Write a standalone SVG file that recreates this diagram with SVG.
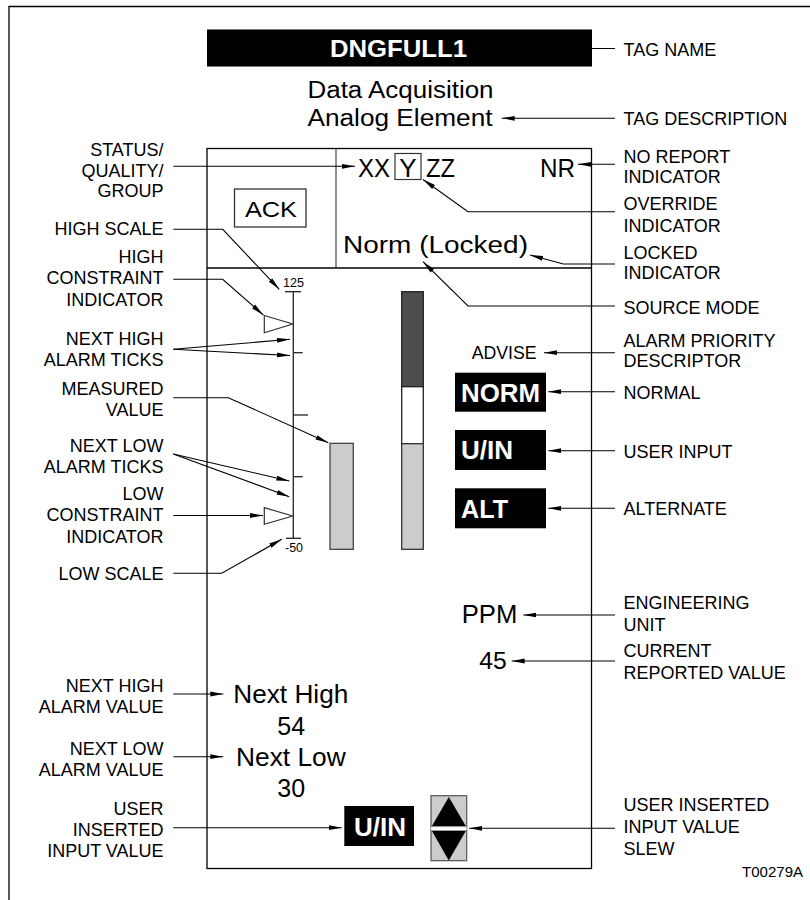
<svg xmlns="http://www.w3.org/2000/svg" width="810" height="900" viewBox="0 0 810 900">
<defs>
<style>
text{font-family:"Liberation Sans",Arial,Helvetica,sans-serif;fill:#000}
.lb{font-size:18px}
.lr{font-size:18px;text-anchor:end}
.big{font-size:23px}
.inv{font-size:26px;font-weight:bold;fill:#fff}
.sm{font-size:12.5px}
.c{stroke:#000;stroke-width:1.1;fill:none;marker-end:url(#ah)}
.bx{fill:#000}
.tk{stroke:#222;stroke-width:1.3}
</style>
<marker id="ah" markerWidth="13" markerHeight="6" refX="13" refY="3" orient="auto" markerUnits="userSpaceOnUse"><path d="M0,0.6 L13,3 L0,5.4 z" fill="#000"/></marker>
</defs>
<rect width="810" height="900" fill="#fff"/>
<path d="M9,900 V6.5 H810" fill="none" stroke="#000" stroke-width="1.3"/>

<g id="tag-name">
<rect x="207" y="29.5" width="385" height="37" class="bx"/>
<text x="330" y="57" font-size="24" font-weight="bold" style="fill:#fff" textLength="137" lengthAdjust="spacingAndGlyphs">DNGFULL1</text>
</g>
<g id="tag-description">
<text x="307.5" y="98.3" class="big" textLength="186" lengthAdjust="spacingAndGlyphs">Data Acquisition</text>
<text x="307.5" y="126" class="big" textLength="185" lengthAdjust="spacingAndGlyphs">Analog Element</text>
</g>

<g id="panel">
<rect x="207" y="148.5" width="384.5" height="720" fill="none" stroke="#000" stroke-width="1.3"/>
<line x1="336" y1="148.5" x2="336" y2="268" stroke="#555" stroke-width="1.3"/>
<line x1="207" y1="268" x2="591.5" y2="268" stroke="#000" stroke-width="1.3"/>
</g>

<g id="ack">
<rect x="234.5" y="189" width="71.5" height="38" fill="none" stroke="#333" stroke-width="1.3"/>
<text x="245" y="217" font-size="22" textLength="52" lengthAdjust="spacingAndGlyphs">ACK</text>
</g>

<g id="status">
<text x="358" y="176.5" font-size="26" textLength="32" lengthAdjust="spacingAndGlyphs">XX</text>
<rect x="395" y="153.5" width="26" height="26" fill="none" stroke="#333" stroke-width="1.2"/>
<text x="408" y="176.5" font-size="26" text-anchor="middle">Y</text>
<text x="426" y="176.5" font-size="26" textLength="29" lengthAdjust="spacingAndGlyphs">ZZ</text>
</g>
<g id="no-report">
<text x="540" y="176.5" font-size="26" textLength="35" lengthAdjust="spacingAndGlyphs">NR</text>
</g>
<g id="source-mode">
<text x="343" y="252.5" font-size="23" textLength="185" lengthAdjust="spacingAndGlyphs">Norm (Locked)</text>
</g>

<g id="scale">
<text x="283" y="286.7" class="sm" textLength="21" lengthAdjust="spacingAndGlyphs">125</text>
<line x1="293.3" y1="291.7" x2="293.3" y2="538.3" class="tk"/>
<line x1="285" y1="291.7" x2="301" y2="291.7" class="tk"/>
<line x1="293.3" y1="352.7" x2="302.7" y2="352.7" class="tk"/>
<line x1="293.3" y1="415" x2="308" y2="415" class="tk" stroke="#555"/>
<line x1="293.3" y1="476.7" x2="302.7" y2="476.7" class="tk"/>
<line x1="286" y1="538.3" x2="301" y2="538.3" class="tk"/>
<text x="285" y="551.7" class="sm" textLength="18" lengthAdjust="spacingAndGlyphs">-50</text>
</g>
<g id="high-constraint">
<polygon points="264.3,315.5 292.7,324 264.3,332.7" fill="#fff" stroke="#333" stroke-width="1.2"/>
</g>
<g id="low-constraint">
<polygon points="264.3,507.7 292.7,516 264.3,524.3" fill="#fff" stroke="#333" stroke-width="1.2"/>
</g>
<g id="measured-bar">
<rect x="330" y="443.3" width="23.3" height="106" fill="#ccc" stroke="#444" stroke-width="1.3"/>
</g>
<g id="setpoint-bar">
<rect x="401.7" y="291.7" width="21.6" height="95" fill="#4d4d4d" stroke="#222" stroke-width="1.3"/>
<rect x="401.7" y="386.7" width="21.6" height="57" fill="#fff" stroke="#222" stroke-width="1.3"/>
<rect x="401.7" y="443.7" width="21.6" height="105.6" fill="#ccc" stroke="#333" stroke-width="1.3"/>
</g>

<g id="advise">
<text x="471.7" y="359.3" font-size="17.5" textLength="65" lengthAdjust="spacingAndGlyphs">ADVISE</text>
</g>
<g id="norm">
<rect x="455" y="372.7" width="91" height="39" class="bx"/>
<text x="461" y="401.7" class="inv" style="fill:#fff" textLength="79" lengthAdjust="spacingAndGlyphs">NORM</text>
</g>
<g id="uin">
<rect x="455" y="430" width="91" height="40" class="bx"/>
<text x="461" y="459.3" class="inv" style="fill:#fff" textLength="52" lengthAdjust="spacingAndGlyphs">U/IN</text>
</g>
<g id="alt">
<rect x="455" y="488.3" width="91" height="40" class="bx"/>
<text x="461" y="518.3" class="inv" style="fill:#fff" textLength="47" lengthAdjust="spacingAndGlyphs">ALT</text>
</g>

<g id="eng-unit">
<text x="461.7" y="623.3" font-size="25.5" textLength="55.6" lengthAdjust="spacingAndGlyphs">PPM</text>
</g>
<g id="current-value">
<text x="479.3" y="669.3" font-size="24" textLength="27.4" lengthAdjust="spacingAndGlyphs">45</text>
</g>
<g id="next-high">
<text x="233.3" y="703.3" font-size="25" textLength="115" lengthAdjust="spacingAndGlyphs">Next High</text>
<text x="291.2" y="735" font-size="25" text-anchor="middle">54</text>
</g>
<g id="next-low">
<text x="236" y="766" font-size="25" textLength="109.7" lengthAdjust="spacingAndGlyphs">Next Low</text>
<text x="291.2" y="796.7" font-size="25" text-anchor="middle">30</text>
</g>
<g id="user-input-value">
<rect x="344.3" y="806" width="69.7" height="40" class="bx"/>
<text x="354" y="836" class="inv" style="fill:#fff" textLength="52" lengthAdjust="spacingAndGlyphs">U/IN</text>
</g>
<g id="slew">
<rect x="431" y="795.7" width="35.7" height="65" fill="#ccc" stroke="#555" stroke-width="1.2"/>
<polygon points="448.8,797 431.8,826.3 465.9,826.3" fill="#000"/>
<line x1="431" y1="828.6" x2="466.7" y2="828.6" stroke="#fff" stroke-width="2.6"/>
<polygon points="431.8,830.7 465.9,830.7 448.8,860.5" fill="#000"/>
</g>

<g id="connectors">
<line x1="615" y1="48.5" x2="476" y2="48.5" class="c"/>
<line x1="615" y1="118.3" x2="501.7" y2="118.3" class="c"/>
<line x1="173.3" y1="166.3" x2="355" y2="166.3" class="c"/>
<line x1="615" y1="164.3" x2="578" y2="164.3" class="c"/>
<polyline points="615,211.7 468,211.7 423,179.5" class="c"/>
<polyline points="615,264 563.3,264 530,255" class="c"/>
<polyline points="615,306 468,306 423,261.7" class="c"/>
<polyline points="173.3,229.3 222.7,229.3 279.3,289.3" class="c"/>
<polyline points="173.3,279.3 222.7,279.3 263.3,315" class="c"/>
<line x1="173.3" y1="349.3" x2="290" y2="339.3" class="c"/>
<line x1="173.3" y1="349.3" x2="290" y2="355.5" class="c"/>
<polyline points="173.3,397.7 228.3,397.7 328.3,442.7" class="c"/>
<line x1="173.3" y1="454" x2="289.3" y2="481" class="c"/>
<line x1="173.3" y1="454" x2="289.3" y2="496.7" class="c"/>
<line x1="173.3" y1="515.5" x2="263" y2="515.5" class="c"/>
<polyline points="173.3,573.3 221.7,573.3 281.7,539.3" class="c"/>
<line x1="615" y1="352.7" x2="544" y2="352.7" class="c"/>
<line x1="615" y1="391.7" x2="548.3" y2="391.7" class="c"/>
<line x1="615" y1="450.7" x2="548.3" y2="450.7" class="c"/>
<line x1="615" y1="508.3" x2="548.3" y2="508.3" class="c"/>
<line x1="615" y1="615" x2="523.3" y2="615" class="c"/>
<line x1="615" y1="661" x2="511.7" y2="661" class="c"/>
<line x1="173.3" y1="694" x2="223.3" y2="694" class="c"/>
<line x1="173.3" y1="756.7" x2="223.3" y2="756.7" class="c"/>
<line x1="173.3" y1="827.7" x2="341.7" y2="827.7" class="c"/>
<line x1="615" y1="828.3" x2="469.3" y2="828.3" class="c"/>
</g>

<g id="labels-right">
<text x="623.5" y="56" class="lb">TAG NAME</text>
<text x="623.5" y="125" class="lb">TAG DESCRIPTION</text>
<text x="623.5" y="163.3" class="lb">NO REPORT<tspan x="623.5" y="183.3">INDICATOR</tspan></text>
<text x="623.5" y="210" class="lb">OVERRIDE<tspan x="623.5" y="231.7">INDICATOR</tspan></text>
<text x="623.5" y="259.3" class="lb">LOCKED<tspan x="623.5" y="279.3">INDICATOR</tspan></text>
<text x="623.5" y="314" class="lb">SOURCE MODE</text>
<text x="623.5" y="346.7" class="lb">ALARM PRIORITY<tspan x="623.5" y="367.3">DESCRIPTOR</tspan></text>
<text x="623.5" y="399" class="lb">NORMAL</text>
<text x="623.5" y="457.7" class="lb">USER INPUT</text>
<text x="623.5" y="515" class="lb">ALTERNATE</text>
<text x="623.5" y="609" class="lb">ENGINEERING<tspan x="623.5" y="630.7">UNIT</tspan></text>
<text x="623.5" y="656.7" class="lb">CURRENT<tspan x="623.5" y="679.3">REPORTED VALUE</tspan></text>
<text x="623.5" y="811" class="lb">USER INSERTED<tspan x="623.5" y="833.3">INPUT VALUE</tspan><tspan x="623.5" y="855">SLEW</tspan></text>
<text x="803" y="876.7" font-size="15" text-anchor="end">T00279A</text>
</g>

<g id="labels-left">
<text x="163.5" y="155.7" class="lr">STATUS/<tspan x="163.5" y="176.7">QUALITY/</tspan><tspan x="163.5" y="197">GROUP</tspan></text>
<text x="163.5" y="235" class="lr">HIGH SCALE</text>
<text x="163.5" y="263.3" class="lr">HIGH<tspan x="163.5" y="284.3">CONSTRAINT</tspan><tspan x="163.5" y="305.7">INDICATOR</tspan></text>
<text x="163.5" y="345" class="lr">NEXT HIGH<tspan x="163.5" y="366">ALARM TICKS</tspan></text>
<text x="163.5" y="395" class="lr">MEASURED<tspan x="163.5" y="416">VALUE</tspan></text>
<text x="163.5" y="451.7" class="lr">NEXT LOW<tspan x="163.5" y="472.7">ALARM TICKS</tspan></text>
<text x="163.5" y="500" class="lr">LOW<tspan x="163.5" y="521">CONSTRAINT</tspan><tspan x="163.5" y="543.3">INDICATOR</tspan></text>
<text x="163.5" y="580" class="lr">LOW SCALE</text>
<text x="163.5" y="691.7" class="lr">NEXT HIGH<tspan x="163.5" y="713.3">ALARM VALUE</tspan></text>
<text x="163.5" y="755" class="lr">NEXT LOW<tspan x="163.5" y="776">ALARM VALUE</tspan></text>
<text x="163.5" y="815" class="lr">USER<tspan x="163.5" y="836">INSERTED</tspan><tspan x="163.5" y="857">INPUT VALUE</tspan></text>
</g>
</svg>
